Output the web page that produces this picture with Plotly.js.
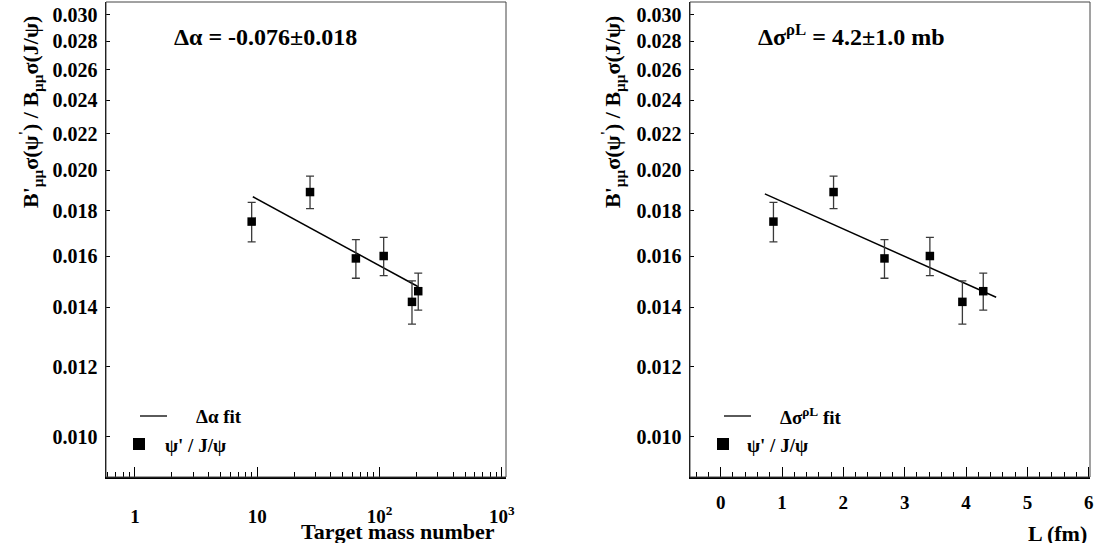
<!DOCTYPE html>
<html>
<head>
<meta charset="utf-8">
<script src="https://cdn.plot.ly/plotly-3.0.1.min.js"></script>
<style>html,body{margin:0;padding:0;background:#fff;}#chart{width:1098px;height:543px;}</style>
</head>
<body>
<div id="chart"></div>
<script>
// ---- data ----
const massNumber = [9, 27, 64, 108, 184, 207];
const pathLength = [0.86, 1.84, 2.67, 3.41, 3.94, 4.28];
const ratio      = [0.0175, 0.0189, 0.0159, 0.0160, 0.0142, 0.0146];
const ratioErr   = [0.0009, 0.0008, 0.0008, 0.0008, 0.0008, 0.0007];
const fitAx = [9.2, 207];
const fitAy = [0.01867, 0.01477];
const fitLx = [0.72, 4.49];
const fitLy = [0.01881, 0.01437];
const yTickVals = [0.010, 0.012, 0.014, 0.016, 0.018, 0.020, 0.022, 0.024, 0.026, 0.028, 0.030];
const yTickText = yTickVals.map(v => v.toFixed(3));
const yLongTicks = [0.010, 0.020, 0.030];
const xTickValsA = [1, 10, 100, 1000];
const xTickTextA = ['1', '10', '10<sup>2</sup>', '10<sup>3</sup>'];
const xMinorA = [];
[0.1, 1, 10, 100].forEach(d => { for (let k = 2; k <= 9; k++) { const v = k * d; if (v > 0.58 && v < 1080) xMinorA.push(+v.toPrecision(3)); } });

const W = 1098, H = 543;
const FONT = 'Liberation Serif';
const fx = p => p / W, fy = p => 1 - p / H;
const dom1 = [fx(106), fx(506)], dom2 = [fx(690), fx(1090)];
const ydom = [fy(477), fy(2)];
const yRange = [Math.log10(0.009), Math.log10(0.031)];

const errStyle = {type: 'data', array: ratioErr, visible: true, color: '#3a3a3a', thickness: 1.3, width: 4};
const markerStyle = {symbol: 'square', size: 8.5, color: 'black'};
const lineStyle = {color: 'black', width: 1.5};

const traces = [
  {x: fitAx, y: fitAy, mode: 'lines', line: lineStyle, xaxis: 'x', yaxis: 'y', hoverinfo: 'skip'},
  {x: massNumber, y: ratio, mode: 'markers', marker: markerStyle, error_y: errStyle, xaxis: 'x', yaxis: 'y'},
  {x: fitLx, y: fitLy, mode: 'lines', line: lineStyle, xaxis: 'x2', yaxis: 'y2', hoverinfo: 'skip'},
  {x: pathLength, y: ratio, mode: 'markers', marker: markerStyle, error_y: errStyle, xaxis: 'x2', yaxis: 'y2'}
];

const yTickFont = {family: FONT, size: 20, color: 'black', weight: 'bold'};
const xTickFont = {family: FONT, size: 19, color: 'black', weight: 'bold'};
const yAxisBase = {
  type: 'log', domain: ydom, range: yRange, tickmode: 'array', tickvals: yTickVals, ticktext: yTickText,
  ticks: 'inside', ticklen: 4, tickwidth: 1, tickcolor: 'black', showline: true, linewidth: 1.5, linecolor: 'black',
  showgrid: false, zeroline: false, tickfont: yTickFont, automargin: false, ticklabelstandoff: 3
};
const yLongBase = {
  type: 'log', range: yRange, tickmode: 'array', tickvals: yLongTicks, ticks: 'inside', ticklen: 8, tickwidth: 1,
  tickcolor: 'black', showticklabels: false, showline: false, showgrid: false, zeroline: false, side: 'left'
};

const layout = {
  width: W, height: H, margin: {l: 0, r: 0, t: 0, b: 0}, showlegend: false,
  paper_bgcolor: 'white', plot_bgcolor: 'white',
  font: {family: FONT, size: 18, color: 'black', weight: 'bold'},
  xaxis: {
    type: 'log', domain: dom1, range: [Math.log10(0.58), Math.log10(1080)], anchor: 'y',
    tickmode: 'array', tickvals: xTickValsA, ticktext: xTickTextA, ticks: 'inside', ticklen: 10, tickwidth: 1, tickcolor: 'black',
    minor: {tickmode: 'array', tickvals: xMinorA, ticks: 'inside', ticklen: 5, tickwidth: 1, tickcolor: 'black', showgrid: false},
    showline: true, linewidth: 1.5, linecolor: 'black', showgrid: false, zeroline: false, tickfont: xTickFont,
    automargin: false, ticklabelstandoff: 22
  },
  yaxis: Object.assign({}, yAxisBase, {anchor: 'x'}),
  xaxis2: {
    domain: dom2, range: [-0.5, 6.02], anchor: 'y2', tickmode: 'linear', tick0: 0, dtick: 1,
    ticks: 'inside', ticklen: 10, tickwidth: 1, tickcolor: 'black',
    minor: {dtick: 0.2, ticks: 'inside', ticklen: 5, tickwidth: 1, tickcolor: 'black', showgrid: false},
    showline: true, linewidth: 1.5, linecolor: 'black', showgrid: false, zeroline: false, tickfont: xTickFont,
    automargin: false, ticklabelstandoff: 8
  },
  yaxis2: Object.assign({}, yAxisBase, {anchor: 'x2'}),
  yaxis3: Object.assign({}, yLongBase, {overlaying: 'y', anchor: 'x'}),
  yaxis4: Object.assign({}, yLongBase, {overlaying: 'y2', anchor: 'x2'}),
  shapes: [],
  annotations: []
};

// frames
['x', 'x2'].forEach((xa, i) => {
  const ya = i === 0 ? 'y' : 'y2';
  layout.shapes.push({type: 'rect', xref: xa + ' domain', yref: ya + ' domain', x0: 0, x1: 1, y0: 0, y1: 1,
    line: {color: '#444', width: 1}, fillcolor: 'rgba(0,0,0,0)'});
});

function ann(text, px, py, size, xanchor, extra) {
  return Object.assign({text: text, xref: 'paper', yref: 'paper', x: fx(px), y: fy(py), xanchor: xanchor || 'center',
    yanchor: 'middle', showarrow: false, font: {family: FONT, size: size, color: 'black', weight: 'bold'}}, extra || {});
}
const yTitle = "B'<sub>μμ</sub>σ(ψ<sup>'</sup>) / B<sub>μμ</sub>σ(J/ψ)";
layout.annotations.push(ann(yTitle, 30, 112, 22, 'center', {textangle: -90}));
layout.annotations.push(ann(yTitle, 612, 112, 22, 'center', {textangle: -90}));
layout.annotations.push(ann('Target mass number', 497, 531.5, 22, 'right'));
layout.annotations.push(ann('L (fm)', 1089, 533, 22, 'right'));
layout.annotations.push(ann('Δα = -0.076±0.018', 172, 37, 24, 'left'));
layout.annotations.push(ann('Δσ<sup>ρL</sup> = 4.2±1.0 mb', 756, 35, 24, 'left'));

// legends
function legend(offset, fitLabel, fitTextX, dataTextX) {
  layout.shapes.push({type: 'line', xref: 'paper', yref: 'paper', x0: fx(offset + 34), x1: fx(offset + 61),
    y0: fy(416), y1: fy(416), line: {color: 'black', width: 1.3}});
  layout.shapes.push({type: 'rect', xref: 'paper', yref: 'paper', x0: fx(offset + 27), x1: fx(offset + 39),
    y0: fy(438), y1: fy(450), line: {width: 0}, fillcolor: 'black'});
  layout.annotations.push(ann(fitLabel, offset + fitTextX, 416, 19, 'left'));
  layout.annotations.push(ann("ψ' / J/ψ", offset + dataTextX, 445, 19, 'left'));
}
legend(106, 'Δα fit', 88, 57);
legend(690, 'Δσ<sup>ρL</sup> fit', 88, 55);

Plotly.newPlot('chart', traces, layout, {staticPlot: true});
</script>
</body>
</html>
